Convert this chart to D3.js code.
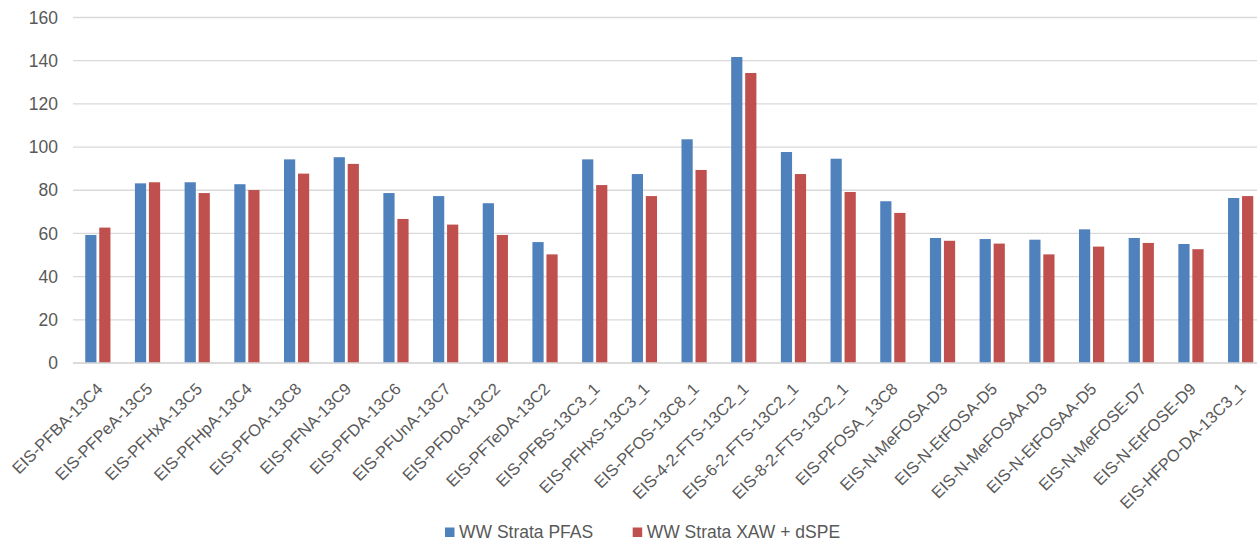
<!DOCTYPE html>
<html>
<head>
<meta charset="utf-8">
<script src="https://cdn.jsdelivr.net/npm/d3@7"></script>
<style>
  html, body { margin: 0; padding: 0; background: #fff; }
  svg { display: block; font-family: "Liberation Sans", Arial, sans-serif; }
</style>
</head>
<body>
<svg id="chart" width="1257" height="540"></svg>
<script>
// Compounds (x categories)
const categories = [
    'EIS-PFBA-13C4', 'EIS-PFPeA-13C5', 'EIS-PFHxA-13C5', 'EIS-PFHpA-13C4',
    'EIS-PFOA-13C8', 'EIS-PFNA-13C9', 'EIS-PFDA-13C6', 'EIS-PFUnA-13C7',
    'EIS-PFDoA-13C2', 'EIS-PFTeDA-13C2', 'EIS-PFBS-13C3_1', 'EIS-PFHxS-13C3_1',
    'EIS-PFOS-13C8_1', 'EIS-4-2-FTS-13C2_1', 'EIS-6-2-FTS-13C2_1', 'EIS-8-2-FTS-13C2_1',
    'EIS-PFOSA_13C8', 'EIS-N-MeFOSA-D3', 'EIS-N-EtFOSA-D5', 'EIS-N-MeFOSAA-D3',
    'EIS-N-EtFOSAA-D5', 'EIS-N-MeFOSE-D7', 'EIS-N-EtFOSE-D9', 'EIS-HFPO-DA-13C3_1'
];

const seriesNames = ['WW Strata PFAS', 'WW Strata XAW + dSPE'];

const strataPfas = [
    59.3, 83.2, 83.7, 82.8, 94.3, 95.3, 78.7, 77.3, 74.0, 56.0, 94.3, 87.5,
    103.6, 141.7, 97.7, 94.6, 74.9, 57.9, 57.4, 57.1, 61.9, 57.9, 55.1, 76.4
];

const strataXaw = [
    62.7, 83.7, 78.7, 80.1, 87.7, 92.2, 66.7, 64.1, 59.3, 50.3, 82.4, 77.3,
    89.4, 134.3, 87.5, 79.2, 69.5, 56.6, 55.3, 50.3, 53.9, 55.6, 52.7, 77.3
];

const yTicks = [0, 20, 40, 60, 80, 100, 120, 140, 160];

const colors = ['#4F81BD', '#C0504D'];

const svg = d3.select('#chart');

// Plot area (right edge runs slightly past the picture, as in the source)
const plot = { left: 73, right: 1265.5, top: 17.5, bottom: 363 };

const x0 = d3.scaleBand()
    .domain(categories)
    .range([plot.left, plot.right])
    .paddingInner(0.436)
    .paddingOuter(0.218);

const x1 = d3.scaleBand()
    .domain(seriesNames)
    .range([0, x0.bandwidth()])
    .paddingInner(0.2)
    .paddingOuter(0.1);

const y = d3.scaleLinear()
    .domain([0, 160])
    .range([plot.bottom, plot.top]);

// Gridlines
svg.append('g')
    .attr('class', 'grid')
    .selectAll('line')
    .data(yTicks)
    .join('line')
    .attr('x1', plot.left)
    .attr('x2', plot.right)
    .attr('y1', d => y(d))
    .attr('y2', d => y(d))
    .attr('stroke', '#d9d9d9')
    .attr('stroke-width', 1.3);

// Y axis labels
const yAxis = svg.append('g')
    .attr('transform', `translate(${plot.left},0)`)
    .call(d3.axisLeft(y).tickValues(yTicks).tickSize(0).tickPadding(15));
yAxis.select('.domain').remove();
yAxis.selectAll('text')
    .attr('font-family', '"Liberation Sans", Arial, sans-serif')
    .attr('font-size', '17.5px')
    .attr('fill', '#595959');

// Bars
const rows = categories.map((c, i) => ({
    key: c,
    values: [strataPfas[i], strataXaw[i]]
}));

const groups = svg.append('g')
    .selectAll('g')
    .data(rows)
    .join('g')
    .attr('transform', d => `translate(${x0(d.key)},0)`);

groups.selectAll('rect')
    .data(d => d.values.map((v, j) => ({ series: seriesNames[j], value: v, color: colors[j] })))
    .join('rect')
    .attr('x', d => x1(d.series))
    .attr('y', d => y(d.value))
    .attr('width', x1.bandwidth())
    .attr('height', d => y(0) - y(d.value))
    .attr('fill', d => d.color);

// X axis baseline
svg.append('line')
    .attr('x1', plot.left)
    .attr('x2', plot.right)
    .attr('y1', y(0))
    .attr('y2', y(0))
    .attr('stroke', '#d9d9d9')
    .attr('stroke-width', 1.3);

// Rotated category labels
svg.append('g')
    .selectAll('text')
    .data(categories)
    .join('text')
    .attr('transform', d => {
        const cx = x0(d) + x0.bandwidth() / 2 + 6;
        return `translate(${cx},390) rotate(-45)`;
    })
    .attr('text-anchor', 'end')
    .attr('font-size', '16.5px')
    .attr('fill', '#595959')
    .text(d => d);

// Legend
const legendItems = [
    { name: seriesNames[0], color: colors[0], x: 445 },
    { name: seriesNames[1], color: colors[1], x: 632.7 }
];

const legend = svg.append('g')
    .selectAll('g')
    .data(legendItems)
    .join('g')
    .attr('transform', d => `translate(${d.x},527.5)`);

legend.append('rect')
    .attr('width', 9.5)
    .attr('height', 9.5)
    .attr('fill', d => d.color);

legend.append('text')
    .attr('x', 14)
    .attr('y', 10)
    .attr('font-size', '17.5px')
    .attr('fill', '#595959')
    .text(d => d.name);
</script>
</body>
</html>
